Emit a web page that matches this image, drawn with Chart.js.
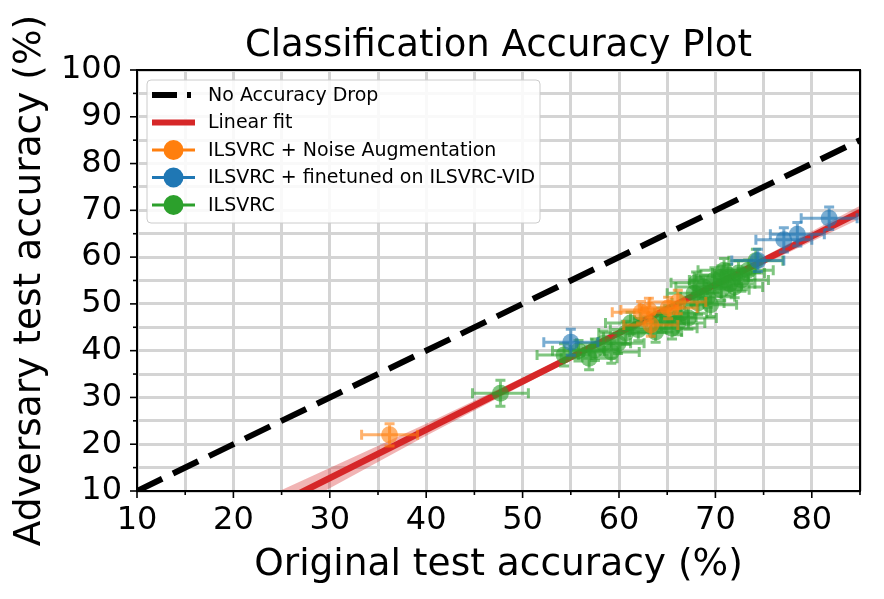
<!DOCTYPE html>
<html>
<head>
<meta charset="utf-8">
<style>
  html, body { margin: 0; padding: 0; background: #fff; }
</style>
</head>
<body>
<canvas id="accChart" width="884" height="599"></canvas>

<script src="https://cdn.jsdelivr.net/npm/chart.js"></script>
<script>
  // tick labels
  const xTickValues = [10, 20, 30, 40, 50, 60, 70, 80];
  const xTickLabels = ['10', '20', '30', '40', '50', '60', '70', '80'];
  const yTickValues = [10, 20, 30, 40, 50, 60, 70, 80, 90, 100];
  const yTickLabels = ['10', '20', '30', '40', '50', '60', '70', '80', '90', '100'];

  // reference line (no accuracy drop) and linear fit
  const diagX = [10, 85];
  const diagY = [10, 85];
  const fitX = [25, 85];
  const fitY = [7.6, 69.6];
  const bandX = [25, 40, 55, 65, 75, 85];
  const bandLow = [5.0, 21.8, 38.0, 48.4, 58.5, 68.2];
  const bandHigh = [10.2, 24.4, 39.2, 49.4, 60.1, 71.0];

  // ILSVRC
  const greenX = [47.7, 54.3, 55.8, 56.9, 57.5, 58.4, 59.2, 59.9, 60.7, 61.2, 62.0, 63.8, 64.4, 65.1, 65.5,
                  66.1, 66.4, 67.2, 67.8, 68.0, 68.2, 68.8, 69.2, 69.5, 69.9, 70.6, 70.6, 70.9, 71.3, 71.5,
                  72.0, 72.4, 72.7, 73.4, 74.2];
  const greenY = [30.9, 39.1, 40.0, 38.4, 40.2, 41.6, 39.7, 41.6, 43.8, 45.9, 44.5, 44.0, 46.5, 47.2, 44.8,
                  45.9, 48.0, 47.0, 52.3, 54.5, 50.2, 53.6, 51.5, 49.8, 55.1, 53.0, 55.7, 57.2, 56.2, 54.3,
                  53.6, 56.6, 55.1, 57.2, 59.2];
  const greenErrX = [2.9, 2.8, 2.7, 2.9, 2.6, 2.8, 2.9, 2.7, 2.8, 2.6, 2.9, 2.7, 2.8, 2.9, 2.6,
                     2.8, 2.7, 2.9, 2.8, 2.6, 2.7, 2.9, 2.8, 2.7, 2.6, 2.9, 2.8, 2.7, 2.8, 2.6,
                     2.9, 2.7, 2.8, 2.6, 2.8];
  const greenErrY = [2.8, 2.4, 2.2, 2.5, 2.3, 2.6, 2.4, 2.2, 2.5, 2.3, 2.4, 2.2, 2.6, 2.4, 2.3,
                     2.5, 2.2, 2.4, 2.6, 2.3, 2.5, 2.4, 2.2, 2.5, 2.6, 2.3, 2.4, 2.5, 2.2, 2.4,
                     2.3, 2.6, 2.4, 2.2, 2.5];

  // ILSVRC + finetuned on ILSVRC-VID
  const blueX = [55.0, 74.4, 77.1, 78.5, 81.8];
  const blueY = [41.8, 59.3, 63.7, 64.9, 68.3];
  const blueErrX = [2.8, 2.7, 2.9, 2.8, 2.9];
  const blueErrY = [2.8, 2.4, 2.6, 2.5, 2.4];

  // ILSVRC + Noise Augmentation
  const orangeX = [36.2, 62.3, 63.1, 63.3, 65.1, 66.1];
  const orangeY = [22.0, 48.2, 48.7, 45.5, 49.1, 50.4];
  const orangeErrX = [2.9, 3.0, 2.9, 2.8, 3.0, 2.9];
  const orangeErrY = [2.4, 2.3, 2.5, 2.4, 2.3, 2.5];

  const FONT = 'DejaVu Sans';
  const toPts = (xs, ys) => xs.map((x, i) => ({ x: x, y: ys[i] }));

  // draws x/y error bars with caps just before each scatter dataset
  const errorBars = {
    id: 'errorBars',
    beforeDatasetDraw(chart, args) {
      const ds = chart.data.datasets[args.index];
      if (!ds.errX) return;
      const xs = chart.scales.x, ys = chart.scales.y;
      const ctx = chart.ctx, a = chart.chartArea;
      const cap = 5;
      ctx.save();
      ctx.beginPath();
      ctx.rect(a.left, a.top, a.right - a.left, a.bottom - a.top);
      ctx.clip();
      ctx.strokeStyle = ds.pointBackgroundColor;
      ctx.lineWidth = 3;
      ds.data.forEach((p, i) => {
        const cx = xs.getPixelForValue(p.x), cy = ys.getPixelForValue(p.y);
        const x0 = xs.getPixelForValue(p.x - ds.errX[i]), x1 = xs.getPixelForValue(p.x + ds.errX[i]);
        const y0 = ys.getPixelForValue(p.y - ds.errY[i]), y1 = ys.getPixelForValue(p.y + ds.errY[i]);
        ctx.beginPath();
        ctx.moveTo(x0, cy); ctx.lineTo(x1, cy);
        ctx.moveTo(cx, y0); ctx.lineTo(cx, y1);
        ctx.moveTo(x0, cy - cap); ctx.lineTo(x0, cy + cap);
        ctx.moveTo(x1, cy - cap); ctx.lineTo(x1, cy + cap);
        ctx.moveTo(cx - cap, y0); ctx.lineTo(cx + cap, y0);
        ctx.moveTo(cx - cap, y1); ctx.lineTo(cx + cap, y1);
        ctx.stroke();
      });
      ctx.restore();
    }
  };

  // spines, tick marks and the matplotlib-style legend
  const frame = {
    id: 'frame',
    afterDraw(chart) {
      const ctx = chart.ctx, a = chart.chartArea;
      const xs = chart.scales.x, ys = chart.scales.y;
      ctx.save();
      ctx.strokeStyle = '#000';
      ctx.lineWidth = 1.6;
      xs.ticks.forEach(t => {
        const px = xs.getPixelForValue(t.value);
        const len = t.value % 10 === 0 ? 7 : 4;
        ctx.beginPath(); ctx.moveTo(px, a.bottom); ctx.lineTo(px, a.bottom + len); ctx.stroke();
      });
      ys.ticks.forEach(t => {
        const py = ys.getPixelForValue(t.value);
        const len = t.value % 10 === 0 ? 7 : 4;
        ctx.beginPath(); ctx.moveTo(a.left, py); ctx.lineTo(a.left - len, py); ctx.stroke();
      });
      ctx.lineWidth = 2;
      ctx.strokeRect(a.left, a.top, a.right - a.left, a.bottom - a.top);

      // legend
      const bx = a.left + 10, by = a.top + 10, bw = 393, bh = 143;
      ctx.beginPath();
      ctx.roundRect(bx, by, bw, bh, 4);
      ctx.fillStyle = 'rgba(255,255,255,0.85)';
      ctx.fill();
      ctx.lineWidth = 1;
      ctx.strokeStyle = '#cccccc';
      ctx.stroke();

      const items = chart.data.datasets.filter(d => d.legendRow !== undefined)
        .sort((p, q) => p.legendRow - q.legendRow);
      const hx0 = bx + 5, hx1 = bx + 48, tx = bx + 61;
      ctx.font = '19px "' + FONT + '"';
      ctx.textBaseline = 'middle';
      ctx.textAlign = 'left';
      items.forEach((d, i) => {
        const ry = by + 15 + i * 27.5;
        ctx.save();
        if (d.legendKind === 'dash') {
          ctx.strokeStyle = '#000'; ctx.lineWidth = 6; ctx.setLineDash([25, 10]);
          ctx.beginPath(); ctx.moveTo(hx0, ry); ctx.lineTo(hx1 - 4, ry); ctx.stroke();
        } else if (d.legendKind === 'line') {
          ctx.strokeStyle = d.borderColor; ctx.lineWidth = 6;
          ctx.beginPath(); ctx.moveTo(hx0, ry); ctx.lineTo(hx1, ry); ctx.stroke();
        } else {
          ctx.strokeStyle = d.legendColor; ctx.lineWidth = 3;
          ctx.beginPath(); ctx.moveTo(hx0, ry); ctx.lineTo(hx1, ry); ctx.stroke();
          ctx.fillStyle = d.legendColor;
          ctx.beginPath(); ctx.arc((hx0 + hx1) / 2, ry, 10, 0, Math.PI * 2); ctx.fill();
        }
        ctx.restore();
        ctx.fillStyle = '#000';
        ctx.fillText(d.label, tx, ry + 1);
      });
      ctx.restore();
    }
  };

  const scatterSet = (label, xs, ys, ex, ey, rgb, row, order) => ({
    label: label,
    data: toPts(xs, ys),
    errX: ex,
    errY: ey,
    showLine: false,
    pointRadius: 8.5,
    pointBorderWidth: 0,
    pointBackgroundColor: 'rgba(' + rgb + ',0.6)',
    legendColor: 'rgb(' + rgb + ')',
    legendRow: row,
    order: order,
    clip: 0
  });

  const ctx = document.getElementById('accChart').getContext('2d');
  new Chart(ctx, {
    type: 'scatter',
    data: {
      datasets: [
        {
          label: 'No Accuracy Drop',
          data: toPts(diagX, diagY),
          showLine: true,
          borderColor: '#000',
          borderWidth: 6,
          borderDash: [28, 12],
          pointRadius: 0,
          legendRow: 0,
          legendKind: 'dash',
          order: 6,
          clip: 0
        },
        {
          label: 'band low',
          data: toPts(bandX, bandLow),
          showLine: true,
          borderColor: 'transparent',
          borderWidth: 0,
          pointRadius: 0,
          fill: false,
          order: 5,
          clip: 0
        },
        {
          label: 'band high',
          data: toPts(bandX, bandHigh),
          showLine: true,
          borderColor: 'transparent',
          borderWidth: 0,
          pointRadius: 0,
          fill: '-1',
          backgroundColor: 'rgba(214,39,40,0.35)',
          order: 5,
          clip: 0
        },
        {
          label: 'Linear fit',
          data: toPts(fitX, fitY),
          showLine: true,
          borderColor: '#d62728',
          borderWidth: 6.5,
          pointRadius: 0,
          legendRow: 1,
          legendKind: 'line',
          order: 4,
          clip: 0
        },
        scatterSet('ILSVRC + Noise Augmentation', orangeX, orangeY, orangeErrX, orangeErrY, '255,127,14', 2, 1),
        scatterSet('ILSVRC + finetuned on ILSVRC-VID', blueX, blueY, blueErrX, blueErrY, '31,119,180', 3, 2),
        scatterSet('ILSVRC', greenX, greenY, greenErrX, greenErrY, '44,160,44', 4, 3)
      ]
    },
    options: {
      responsive: false,
      animation: false,
      events: [],
      layout: { padding: { left: 0, right: 24, top: 0, bottom: 0 } },
      plugins: {
        legend: { display: false },
        tooltip: { enabled: false },
        title: {
          display: true,
          text: 'Classification Accuracy Plot',
          fullSize: false,
          color: '#000',
          font: { family: FONT, size: 37, weight: 'normal' },
          padding: { top: 24, bottom: 1.6 }
        }
      },
      scales: {
        x: {
          type: 'linear',
          min: 10,
          max: 85,
          afterFit: s => { s.height = 108; },
          border: { display: false },
          grid: { color: '#d4d4d4', lineWidth: 3, drawTicks: false },
          ticks: {
            stepSize: 5,
            autoSkip: false,
            maxRotation: 0,
            padding: 10,
            color: '#000',
            font: { family: FONT, size: 32 },
            callback: v => { const i = xTickValues.indexOf(v); return i >= 0 ? xTickLabels[i] : ''; }
          },
          title: {
            display: true,
            text: 'Original test accuracy (%)',
            color: '#000',
            font: { family: FONT, size: 37.5 },
            padding: { top: 0, bottom: 11 }
          }
        },
        y: {
          type: 'linear',
          min: 10,
          max: 100,
          afterFit: s => { s.width = 137; },
          border: { display: false },
          grid: { color: '#d4d4d4', lineWidth: 3, drawTicks: false },
          ticks: {
            stepSize: 5,
            autoSkip: false,
            padding: 15,
            color: '#000',
            font: { family: FONT, size: 32 },
            callback: v => { const i = yTickValues.indexOf(v); return i >= 0 ? yTickLabels[i] : ''; }
          },
          title: {
            display: true,
            text: 'Adversary test accuracy (%)',
            color: '#000',
            font: { family: FONT, size: 37.5 },
            padding: { top: 8, bottom: 0 }
          }
        }
      }
    },
    plugins: [errorBars, frame]
  });
</script>
</body>
</html>
